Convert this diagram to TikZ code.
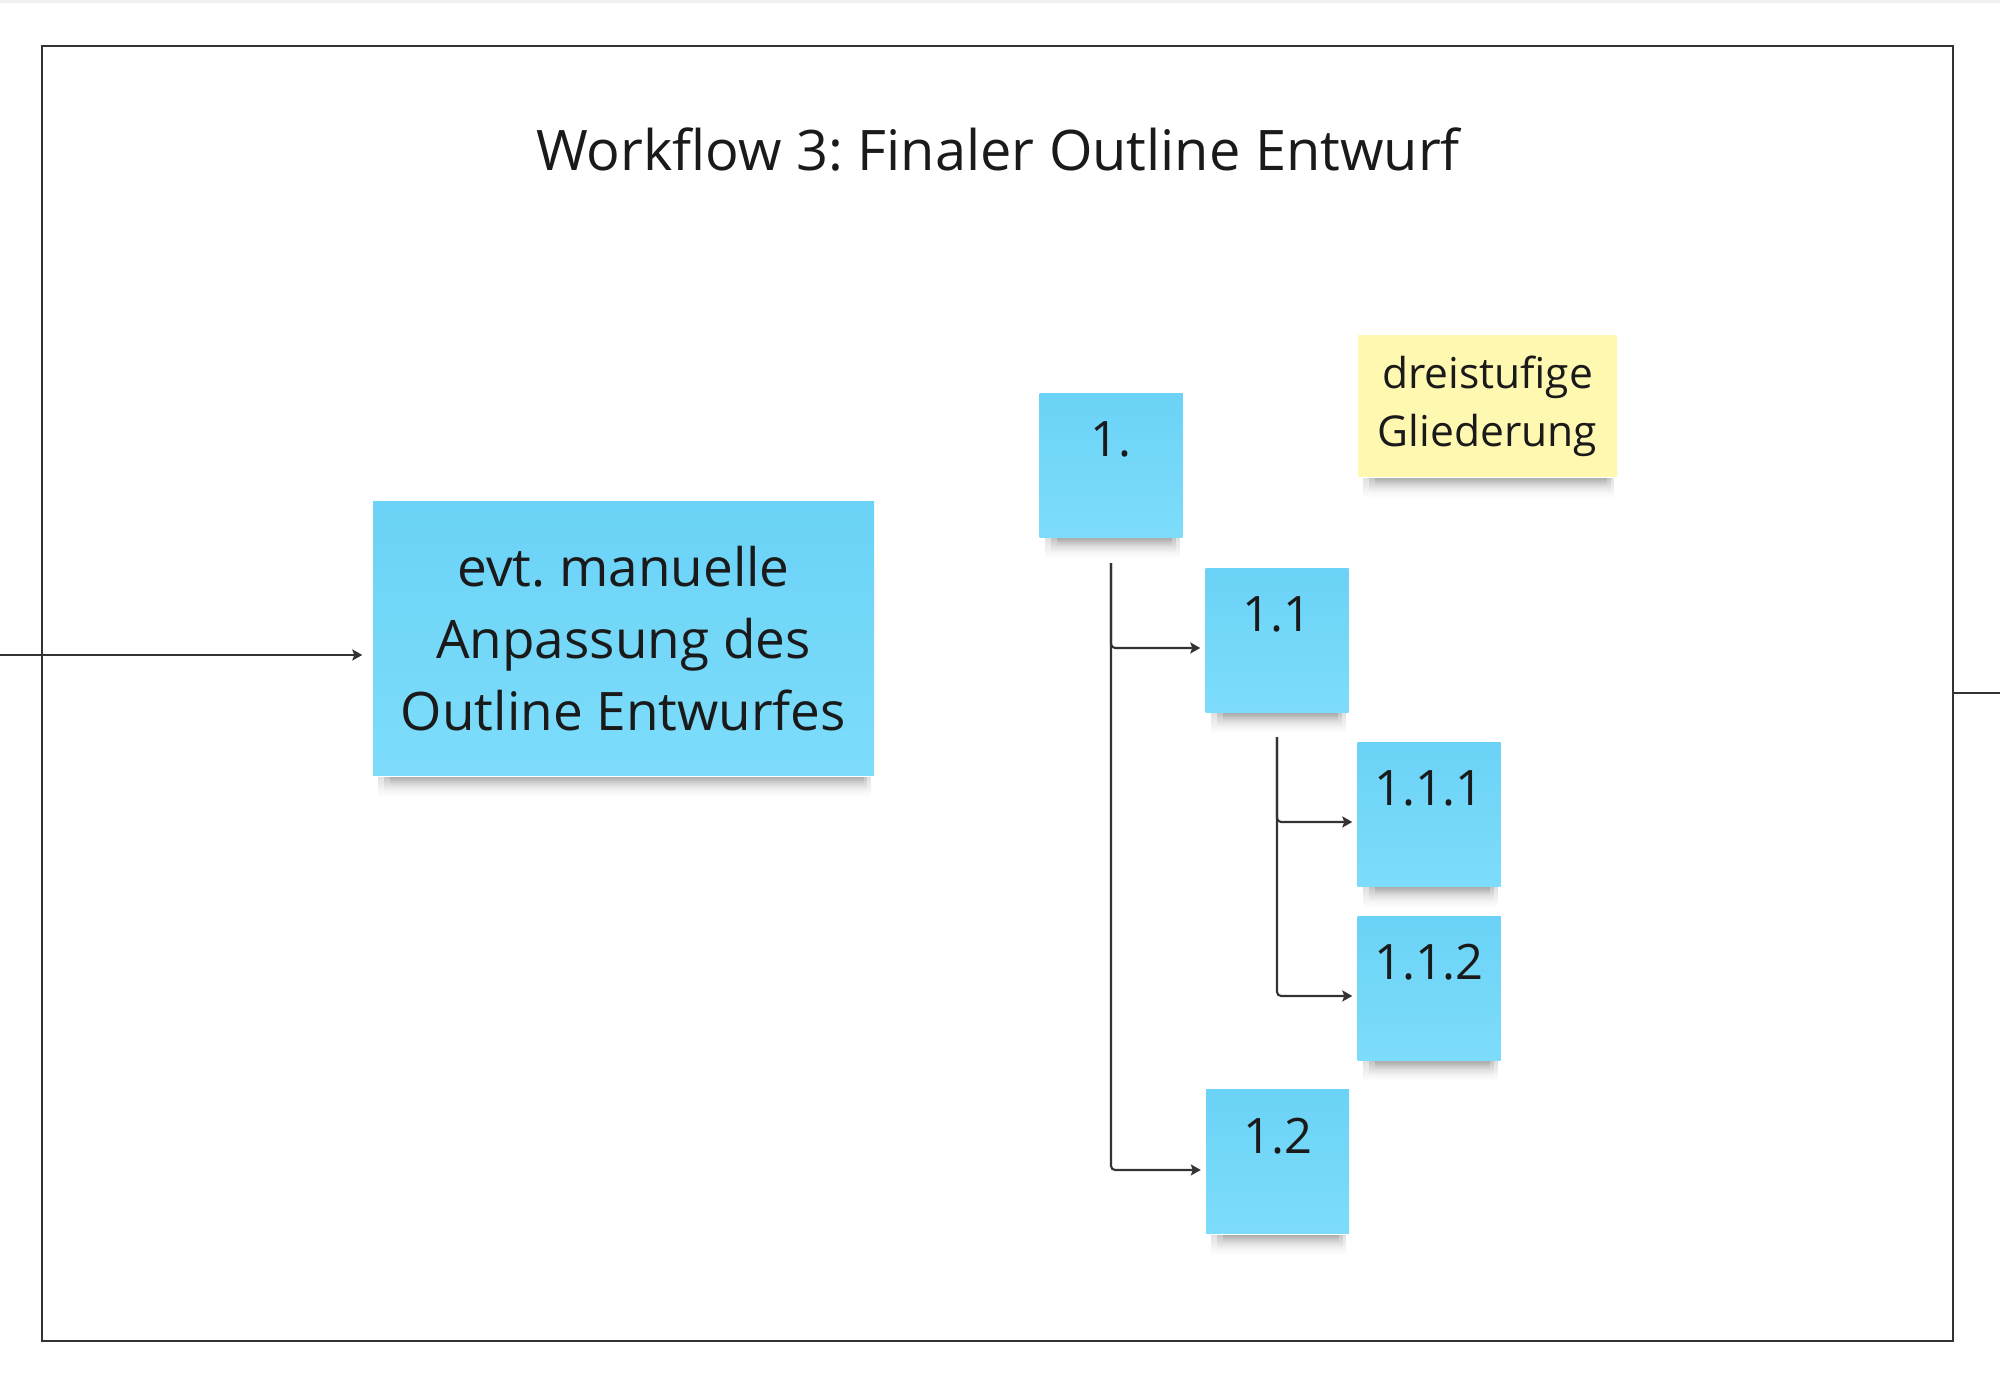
\documentclass[tikz,border=0pt]{standalone}
\usepackage{fontspec}
\setmainfont{Open Sans}
\usetikzlibrary{arrows.meta,fadings}
\frenchspacing

\definecolor{zettelblau}{HTML}{6BD3F7}
\definecolor{zettelblauhell}{HTML}{7DDCFA}
\definecolor{zettelgelb}{HTML}{FFF8B1}
\definecolor{linie}{HTML}{333333}
\definecolor{schrift}{HTML}{1A1A1A}

\tikzset{
  zettel/.style={rectangle, draw=none, inner sep=0pt, text=schrift,
    top color=zettelblau, bottom color=zettelblauhell},
  punkt/.style={zettel, minimum width=1.43cm, minimum height=1.44cm,
    font=\fontsize{13.9}{16}\selectfont, text height=0.35cm, text depth=0.52cm},
  notiz/.style={zettel, top color=zettelgelb, bottom color=zettelgelb, align=center,
    minimum width=2.59cm, minimum height=1.41cm, font=\fontsize{12.1}{16.5}\selectfont},
  ast/.style={draw=linie, line width=0.6pt, rounded corners=0.04cm,
    -{Stealth[length=0.1cm, width=0.11cm, inset=0.02cm]}, shorten >=0.045cm},
  rahmen/.style={draw=linie, line width=0.6pt, inner sep=0pt},
  schatten/.style={fill=black, opacity=0.12, path fading=south},
}

\begin{document}
\begin{tikzpicture}
  \useasboundingbox (0,0) rectangle (20,13.84);
  \fill[white] (0,0) rectangle (20,13.84);
  \fill[gray!12] (0,13.81) rectangle (20,13.84);

  % Rahmen und Titel
  \node[rahmen, minimum width=19.11cm, minimum height=12.95cm] (rahmen) at (9.975,6.905) {};
  \node[anchor=base, text=schrift, font=\fontsize{15.9}{20}\selectfont] (titel) at (9.98,12.13)
    {Workflow 3: Finaler Outline Entwurf};

  % Zettel
  \node[zettel, align=center, minimum width=5.01cm, minimum height=2.74cm,
    font=\fontsize{15.1}{20.5}\selectfont] (anpassung) at (6.235,7.45)
    {evt. manuelle\\Anpassung des\\Outline Entwurfes};
  \node[notiz] (hinweis) at (14.875,9.775) {\vphantom{g}dreistufige\\Gliederung\rule[-0.06cm]{0pt}{0pt}};
  \node[punkt] (n1)   at (11.11,9.185) {1.};
  \node[punkt] (n11)  at (12.77,7.435) {1.1};
  \node[punkt] (n111) at (14.29,5.695) {1.1.1};
  \node[punkt] (n112) at (14.29,3.955) {1.1.2};
  \node[punkt] (n12)  at (12.775,2.22) {1.2};

  % Schatten unter den Zetteln
  \foreach \z in {anpassung,hinweis,n1,n11,n111,n112,n12}
    \foreach \e/\h in {0.06/0.2, 0.12/0.14, 0.18/0.08}
      \fill[schatten] ([xshift=\e cm]\z.south west) rectangle ([xshift=-0.6*\e cm, yshift=-\h cm]\z.south east);

  % Verbindungen
  \coordinate (eingang) at (0,7.29);
  \coordinate (ausgang) at (20,6.91);
  \draw[ast, shorten >=0.1cm] (eingang) -- (eingang -| anpassung.west);
  \draw[rahmen] (ausgang -| rahmen.east) -- (ausgang);
  \draw[ast] ([yshift=-0.25cm]n1.south) |- ([yshift=-0.075cm]n11.west);
  \draw[ast] ([yshift=-0.25cm]n1.south) |- ([yshift=-0.08cm]n12.west);
  \draw[ast] ([yshift=-0.24cm]n11.south) |- ([yshift=-0.075cm]n111.west);
  \draw[ast] ([yshift=-0.24cm]n11.south) |- ([yshift=-0.075cm]n112.west);
\end{tikzpicture}
\end{document}
